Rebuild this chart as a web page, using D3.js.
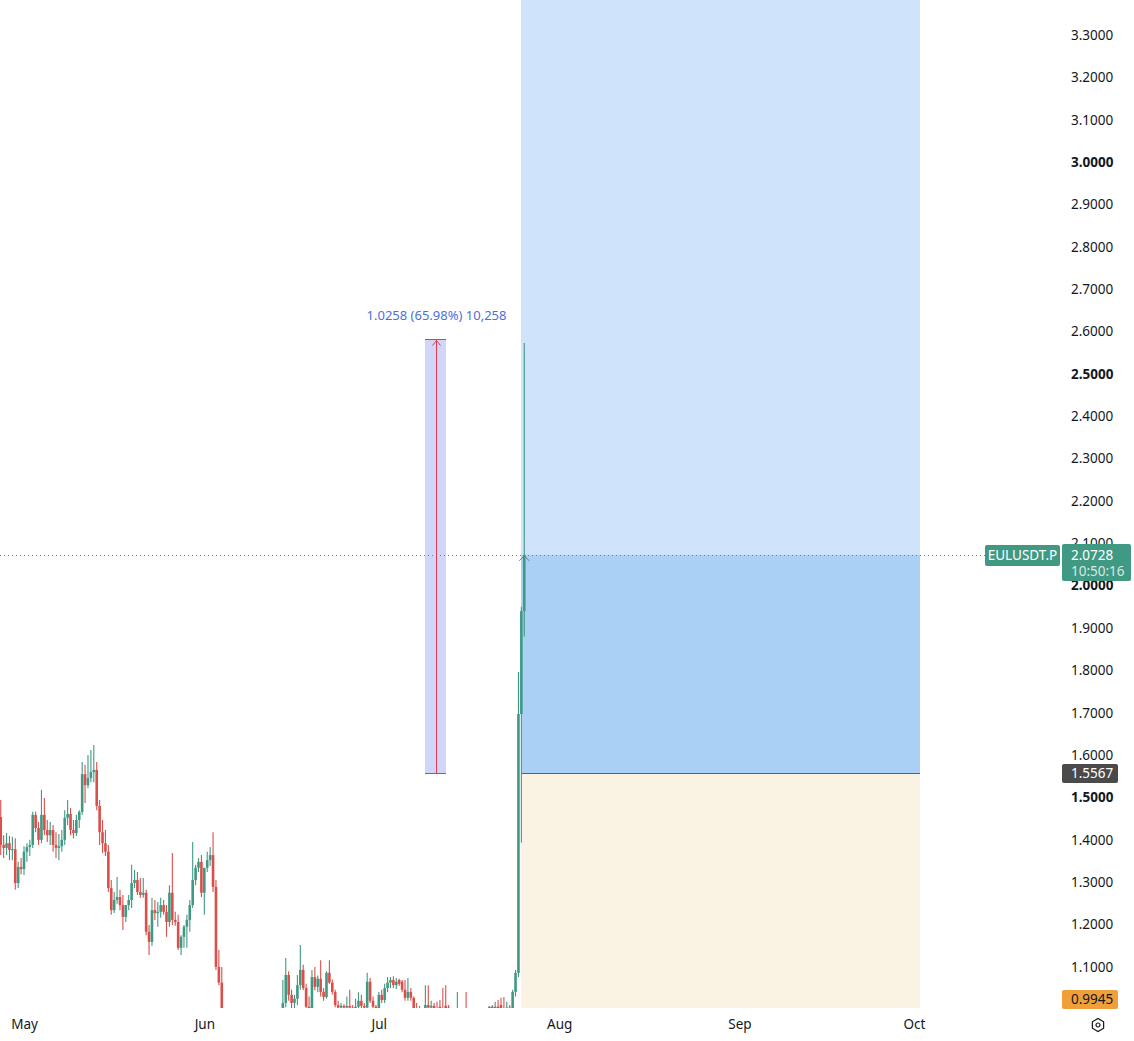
<!DOCTYPE html>
<html>
<head>
<meta charset="utf-8">
<script src="https://cdn.jsdelivr.net/npm/d3@7"></script>
<style>
  html, body { margin: 0; padding: 0; background: #ffffff; }
  svg { display: block; font-family: "Noto Sans", "Open Sans", sans-serif; }
</style>
</head>
<body>
<svg id="chart" width="1134" height="1041"></svg>
<script>
// ---------------- DATA ----------------
const symbol = "EULUSDT.P";
const firstCandle = Date.UTC(2025, 3, 27, 0);   // 12h candles
const candleHours = 12;

const candleOpen = [
  1.454,1.388,1.381,1.392,1.376,1.378,1.298,1.336,1.331,1.372,1.383,1.388,1.459,1.428,1.400,1.459,1.423,1.411,1.423,1.388,
  1.381,1.385,1.400,1.452,1.461,1.423,1.416,1.447,1.466,1.555,1.529,1.546,1.560,1.565,1.480,1.418,1.392,1.372,1.286,1.234,
  1.258,1.265,1.246,1.218,1.246,1.258,1.298,1.305,1.277,1.270,1.275,1.183,1.159,1.234,1.227,1.230,1.246,1.230,1.206,1.275,
  1.211,1.206,1.145,1.171,1.195,1.211,1.246,1.305,1.334,1.348,1.275,1.334,1.352,1.364,1.289,1.100,1.063,0.963,
  0.928,0.905,0.884,0.872,0.890,0.912,0.895,0.868,0.860,0.878,0.902,0.925,0.940,0.918,0.935,0.952,0.938,0.955,0.968,
  0.990,1.015,1.081,1.034,1.015,1.025,1.057,1.093,1.050,1.006,1.003,1.076,1.053,1.072,1.041,1.029,1.086,1.063,1.041,1.010,
  1.004,1.008,1.004,1.008,1.004,0.998,1.006,1.020,1.008,1.004,1.065,1.020,1.006,0.996,1.034,1.022,1.050,1.063,1.069,1.057,
  1.069,1.065,1.046,1.027,1.041,1.027,1.000,0.996,0.998,0.990,1.010,1.004,1.008,0.998,1.006,0.998,1.008,1.004,0.990,0.985,
  0.978,0.990,0.982,0.990,0.980,0.972,0.966,0.975,0.970,0.982,0.978,0.995,1.006,1.000,1.006,1.010,1.003,0.998,1.004,1.000,
  1.041,1.086,1.697,1.940
];
const candleHigh = [
  1.494,1.411,1.416,1.409,1.407,1.404,1.348,1.357,1.385,1.392,1.400,1.466,1.466,1.442,1.518,1.499,1.447,1.442,1.435,1.418,
  1.414,1.423,1.470,1.494,1.475,1.447,1.459,1.470,1.584,1.577,1.600,1.612,1.624,1.584,1.494,1.447,1.423,1.388,1.305,1.277,
  1.312,1.282,1.270,1.246,1.270,1.341,1.329,1.324,1.310,1.310,1.282,1.199,1.263,1.258,1.253,1.263,1.258,1.246,1.293,1.369,
  1.230,1.223,1.175,1.199,1.223,1.258,1.395,1.341,1.357,1.364,1.329,1.372,1.383,1.418,1.305,1.140,1.100,0.975,
  0.940,0.918,0.895,0.902,0.925,0.930,0.905,0.880,0.888,0.915,0.938,0.958,0.948,0.945,0.970,0.962,0.968,0.982,0.995,
  1.069,1.121,1.090,1.046,1.034,1.081,1.152,1.105,1.060,1.030,1.093,1.100,1.080,1.116,1.050,1.090,1.116,1.070,1.046,1.020,
  1.015,1.012,1.030,1.046,1.010,1.025,1.040,1.034,1.015,1.086,1.074,1.030,1.010,1.041,1.046,1.060,1.076,1.076,1.078,1.074,
  1.072,1.069,1.069,1.074,1.050,1.030,1.015,1.008,1.001,1.057,1.057,1.020,1.015,1.018,1.022,1.050,1.057,1.010,0.999,0.995,
  1.041,0.998,0.996,1.041,0.992,0.985,0.982,0.990,0.988,0.996,0.995,1.008,1.010,1.018,1.022,1.027,1.029,1.018,1.010,1.046,
  1.093,1.796,1.950,2.573
];
const candleLow = [
  1.364,1.357,1.364,1.352,1.352,1.282,1.286,1.319,1.317,1.348,1.362,1.381,1.418,1.388,1.392,1.411,1.395,1.388,1.372,1.357,
  1.352,1.372,1.388,1.435,1.411,1.404,1.409,1.428,1.459,1.487,1.522,1.536,1.536,1.470,1.388,1.369,1.362,1.277,1.223,1.227,
  1.249,1.234,1.187,1.206,1.234,1.239,1.286,1.270,1.263,1.263,1.175,1.128,1.150,1.211,1.195,1.216,1.223,1.171,1.195,1.199,
  1.197,1.140,1.128,1.145,1.145,1.183,1.239,1.293,1.324,1.265,1.223,1.324,1.338,1.277,1.093,1.057,0.951,0.916,
  0.898,0.872,0.855,0.862,0.882,0.888,0.858,0.845,0.852,0.870,0.895,0.915,0.905,0.910,0.928,0.925,0.930,0.945,0.958,
  0.985,1.005,1.020,1.003,1.000,1.010,1.046,1.045,1.000,0.995,0.998,1.045,1.040,1.030,1.020,1.025,1.060,1.035,1.005,0.995,
  0.998,0.996,0.998,1.000,0.990,0.990,1.000,1.000,0.995,1.000,1.015,1.000,0.990,0.990,1.015,1.015,1.040,1.050,1.050,1.048,
  1.055,1.040,1.020,1.020,1.020,0.995,0.990,0.985,0.980,0.985,0.995,0.995,0.990,0.985,0.990,0.985,0.990,0.980,0.975,0.970,
  0.972,0.975,0.970,0.975,0.965,0.958,0.955,0.962,0.960,0.972,0.970,0.990,0.995,0.995,0.995,0.998,0.990,0.990,0.995,0.995,
  1.030,1.076,1.393,1.880
];
const candleClose = [
  1.388,1.381,1.392,1.376,1.378,1.298,1.336,1.331,1.372,1.383,1.388,1.459,1.428,1.400,1.459,1.423,1.411,1.423,1.388,1.381,
  1.385,1.400,1.452,1.461,1.423,1.416,1.447,1.466,1.555,1.529,1.546,1.560,1.565,1.480,1.418,1.392,1.372,1.286,1.234,1.258,
  1.265,1.246,1.218,1.246,1.258,1.298,1.305,1.277,1.270,1.275,1.183,1.159,1.234,1.227,1.230,1.246,1.230,1.206,1.275,1.211,
  1.206,1.145,1.171,1.195,1.211,1.246,1.305,1.334,1.348,1.275,1.334,1.352,1.364,1.289,1.100,1.063,0.963,0.928,
  0.905,0.884,0.872,0.890,0.912,0.895,0.868,0.860,0.878,0.902,0.925,0.940,0.918,0.935,0.952,0.938,0.955,0.968,0.990,
  1.015,1.081,1.034,1.015,1.025,1.057,1.093,1.050,1.006,1.003,1.076,1.053,1.072,1.041,1.029,1.086,1.063,1.041,1.010,1.004,
  1.008,1.004,1.008,1.004,0.998,1.006,1.020,1.008,1.004,1.065,1.020,1.006,0.996,1.034,1.022,1.050,1.063,1.069,1.057,1.065,
  1.060,1.046,1.027,1.041,1.027,1.000,0.996,0.998,0.990,1.010,1.004,1.008,0.998,0.992,0.998,0.992,1.003,0.990,0.985,0.978,
  0.990,0.982,0.990,0.980,0.972,0.966,0.975,0.970,0.982,0.978,0.995,1.006,1.000,1.006,1.000,1.003,0.998,1.004,1.000,1.041,
  1.086,1.697,1.940,2.0728
];

const priceTicks = [1.1,1.2,1.3,1.4,1.5,1.6,1.7,1.8,1.9,2.0,2.1,2.2,2.3,2.4,2.5,2.6,2.7,2.8,2.9,3.0,3.1,3.2,3.3];
const boldTicks = [1.5, 2.0, 2.5, 3.0];
const monthTicks = [Date.UTC(2025,4,1), Date.UTC(2025,5,1), Date.UTC(2025,6,1), Date.UTC(2025,7,1), Date.UTC(2025,8,1), Date.UTC(2025,9,1)];

const lastPrice = 2.0728;
const countdown = "10:50:16";
const entryPrice = 1.5567;
const stopPrice = 0.9945;
const targetPrice = 3.45;
const positionStart = Date.UTC(2025, 6, 25, 12);
const positionEnd = Date.UTC(2025, 9, 2, 0);

const measureStart = Date.UTC(2025, 6, 9, 0);
const measureEnd = Date.UTC(2025, 6, 12, 12);
const measureFrom = 1.5567;
const measureTo = 2.5825;
const measureLabel = "1.0258 (65.98%) 10,258";

// ---------------- LAYOUT ----------------
const W = 1134, H = 1041;
const plotW = 1058, plotH = 1008;
const UP = "#3f9983", DOWN = "#db4f4b";
const FONT = "\"Noto Sans\", sans-serif";

const x = d3.scaleUtc().domain([Date.UTC(2025,4,1), Date.UTC(2025,9,1)]).range([24, 914]);
const y = d3.scaleLinear().domain([1.0030, 3.3826]).range([plotH, 0]);

const candles = candleOpen.map((o, i) => ({
  t: firstCandle + i * candleHours * 3600e3,
  o, h: candleHigh[i], l: candleLow[i], c: candleClose[i]
}));

const svg = d3.select("#chart");
svg.append("rect").attr("width", W).attr("height", H).attr("fill", "#fff");

svg.append("defs").append("clipPath").attr("id", "plotClip")
  .append("rect").attr("x", 0).attr("y", 0).attr("width", plotW).attr("height", plotH);

const plot = svg.append("g").attr("clip-path", "url(#plotClip)");

// Long position tool
const px0 = Math.round(x(positionStart)), px1 = Math.round(x(positionEnd));
plot.append("rect").attr("x", px0).attr("width", px1 - px0)
  .attr("y", y(entryPrice)).attr("height", y(stopPrice) - y(entryPrice)).attr("fill", "#faf3e3");
plot.append("rect").attr("x", px0).attr("width", px1 - px0)
  .attr("y", y(targetPrice)).attr("height", y(entryPrice) - y(targetPrice)).attr("fill", "#cfe4fa");
plot.append("rect").attr("x", px0).attr("width", px1 - px0)
  .attr("y", y(lastPrice)).attr("height", y(entryPrice) - y(lastPrice)).attr("fill", "#abd0f5");
const eyLine = Math.round(y(entryPrice)) + 0.5;
plot.append("line").attr("x1", px0).attr("x2", px1)
  .attr("y1", eyLine).attr("y2", eyLine)
  .attr("stroke", "#5d606b").attr("stroke-width", 1);

// Measure tool
const mx0 = Math.round(x(measureStart)), mx1 = Math.round(x(measureEnd));
const mxc = Math.round((mx0 + mx1) / 2) + 0.5;
const myTop = Math.round(y(measureTo)) + 0.5, myBot = Math.round(y(measureFrom)) + 0.5;
plot.append("rect").attr("x", mx0).attr("width", mx1 - mx0)
  .attr("y", myTop).attr("height", myBot - myTop)
  .attr("fill", "#d1d5f7");
const mred = "#e8394a";
plot.append("line").attr("x1", mx0).attr("x2", mx1).attr("y1", myTop).attr("y2", myTop).attr("stroke", mred);
plot.append("line").attr("x1", mx0).attr("x2", mx1).attr("y1", myBot).attr("y2", myBot).attr("stroke", mred);
plot.append("line").attr("x1", mxc).attr("x2", mxc).attr("y1", myTop).attr("y2", myBot).attr("stroke", mred);
plot.append("path")
  .attr("d", `M${mxc - 4},${myTop + 6} L${mxc},${myTop + 1} L${mxc + 4},${myTop + 6}`)
  .attr("fill", "none").attr("stroke", mred);
plot.append("text").attr("x", mxc).attr("y", myTop - 20)
  .attr("text-anchor", "middle").attr("font-size", 13).attr("font-family", FONT).attr("fill", "#4b6fde")
  .text(measureLabel);

// Candles
const bw = 2.6;
const cg = plot.append("g");
cg.selectAll("line.wick").data(candles).join("line")
  .attr("class", "wick")
  .attr("x1", d => x(d.t)).attr("x2", d => x(d.t))
  .attr("y1", d => y(d.h)).attr("y2", d => y(d.l))
  .attr("stroke", d => d.c >= d.o ? UP : DOWN).attr("stroke-width", 1.1);
cg.selectAll("rect.body").data(candles).join("rect")
  .attr("class", "body")
  .attr("x", d => x(d.t) - bw / 2).attr("width", bw)
  .attr("y", d => y(Math.max(d.o, d.c)))
  .attr("height", d => Math.max(1, Math.abs(y(d.o) - y(d.c))))
  .attr("fill", d => d.c >= d.o ? UP : DOWN);

// chevron marker at last candle
const lastC = candles[candles.length - 1];
plot.append("path")
  .attr("d", `M${x(lastC.t) - 5},${y(lastPrice) + 6} L${x(lastC.t)},${y(lastPrice) + 1} L${x(lastC.t) + 5},${y(lastPrice) + 6}`)
  .attr("fill", "none").attr("stroke", "#5f7f78").attr("stroke-width", 1);

// last price dotted line
svg.append("line").attr("x1", 0).attr("x2", 985)
  .attr("y1", Math.round(y(lastPrice)) + 0.5).attr("y2", Math.round(y(lastPrice)) + 0.5)
  .attr("stroke", "#4f8f80").attr("stroke-width", 1).attr("stroke-dasharray", "1,3");

// Y axis
const yAxis = d3.axisRight(y).tickValues(priceTicks).tickFormat(d3.format(".4f")).tickSize(0).tickPadding(3);
const gy = svg.append("g").attr("transform", "translate(1068,0)").call(yAxis);
gy.select(".domain").remove();
gy.selectAll("text").attr("font-size", 13.5).attr("fill", "#131722")
  .attr("font-family", FONT)
  .attr("font-weight", d => boldTicks.some(b => Math.abs(b - d) < 1e-9) ? 700 : 400);

// X axis
const xAxis = d3.axisBottom(x).tickValues(monthTicks).tickFormat(d3.utcFormat("%b")).tickSize(0).tickPadding(11);
const gx = svg.append("g").attr("transform", `translate(0,${plotH})`).call(xAxis);
gx.select(".domain").remove();
gx.selectAll("text").attr("font-size", 13.5).attr("fill", "#131722").attr("font-family", FONT);

// Price labels on axis
const lab = svg.append("g").attr("font-size", 13.5).attr("font-family", FONT);
const ly = Math.round(y(lastPrice));
lab.append("rect").attr("x", 985).attr("y", ly - 10).attr("width", 75).attr("height", 21).attr("rx", 2).attr("fill", UP);
lab.append("text").attr("x", 1022.5).attr("y", ly + 5).attr("text-anchor", "middle").attr("fill", "#fff").text(symbol);
lab.append("rect").attr("x", 1062).attr("y", ly - 11).attr("width", 69).attr("height", 37).attr("rx", 2).attr("fill", UP);
lab.append("text").attr("x", 1071).attr("y", ly + 5).attr("fill", "#fff").text(d3.format(".4f")(lastPrice));
lab.append("text").attr("x", 1071).attr("y", ly + 21).attr("fill", "#fff").attr("fill-opacity", 0.8).text(countdown);

const ey = Math.round(y(entryPrice));
lab.append("rect").attr("x", 1062).attr("y", ey - 9).attr("width", 56).attr("height", 19).attr("rx", 2).attr("fill", "#4a4a4a");
lab.append("text").attr("x", 1071).attr("y", ey + 5).attr("fill", "#fff").text(d3.format(".4f")(entryPrice));

const sy = Math.min(Math.round(y(stopPrice)), plotH - 9);
lab.append("rect").attr("x", 1062).attr("y", sy - 9).attr("width", 56).attr("height", 19).attr("rx", 2).attr("fill", "#f0a03a");
lab.append("text").attr("x", 1071).attr("y", sy + 5).attr("fill", "#131722").text(d3.format(".4f")(stopPrice));

// settings icon
const gear = svg.append("g").attr("transform", "translate(1098,1025)").attr("fill", "none").attr("stroke", "#131722").attr("stroke-width", 1.2);
gear.append("path").attr("d", d3.range(6).map((i) => {
  const a = Math.PI / 3 * i + Math.PI / 6;
  return (i ? "L" : "M") + (6.5 * Math.cos(a)).toFixed(2) + "," + (6.5 * Math.sin(a)).toFixed(2);
}).join("") + "Z");
gear.append("circle").attr("r", 2);
</script>
</body>
</html>
